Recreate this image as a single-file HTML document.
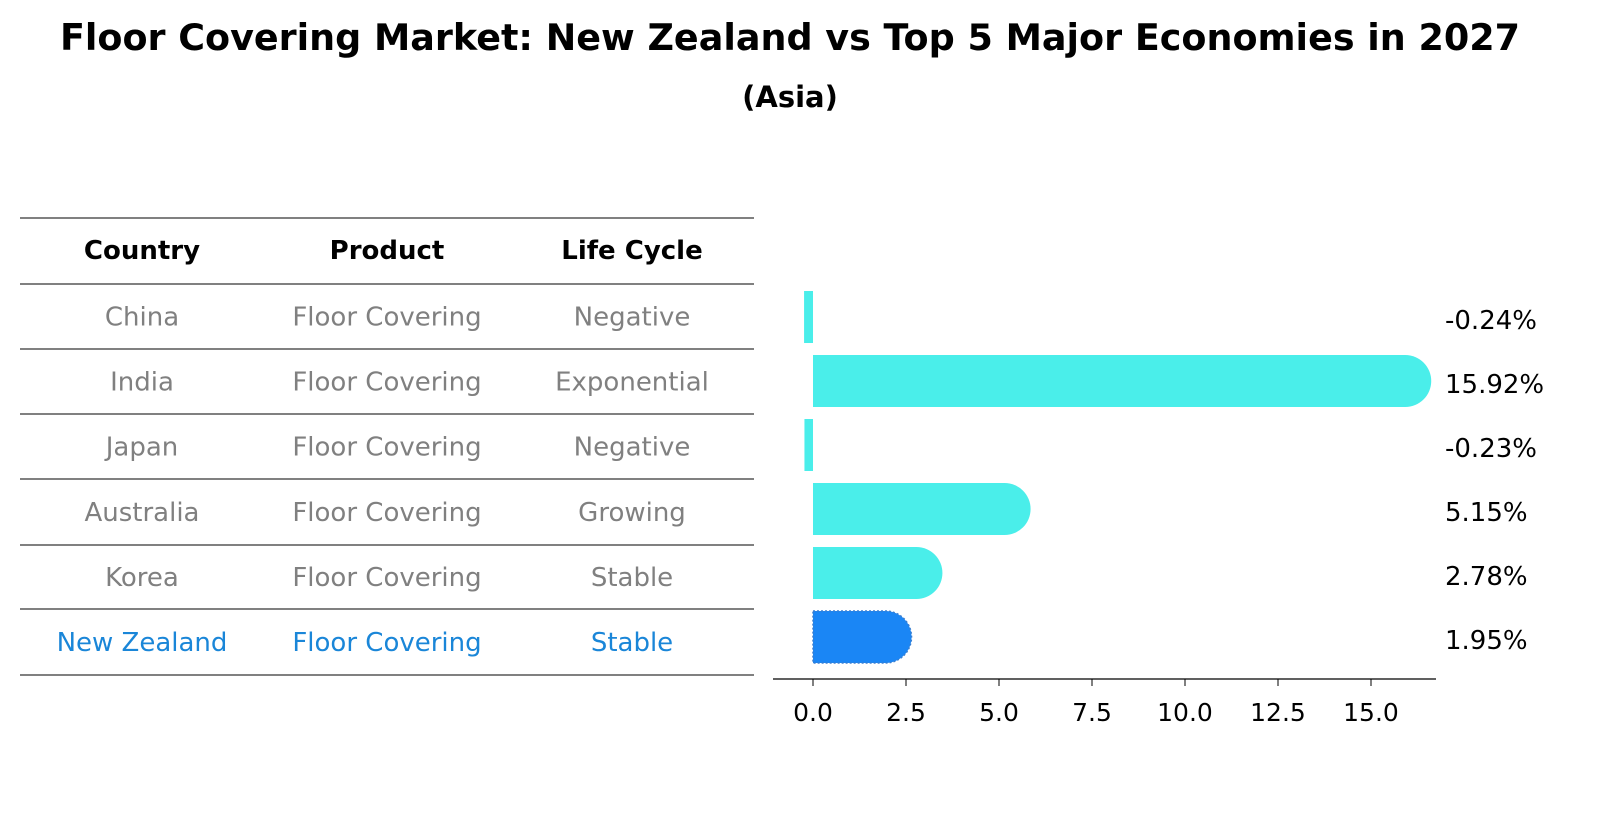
<!DOCTYPE html>
<html><head><meta charset="utf-8"><style>
html,body{margin:0;padding:0;background:#fff;overflow:hidden;width:1604px;height:823px;}
svg{display:block;}
</style></head><body>
<svg width="1604" height="823" viewBox="0 0 1604 823" xmlns="http://www.w3.org/2000/svg" font-family="DejaVu Sans, Liberation Sans, sans-serif">
<text x="790" y="50" text-anchor="middle" font-size="36.5" font-weight="bold">Floor Covering Market: New Zealand vs Top 5 Major Economies in 2027</text>
<text x="790" y="107" text-anchor="middle" font-size="29" font-weight="bold">(Asia)</text>
<g id="table"></g>
<g id="bars"></g>
</svg>
<script>
const countries=["China","India","Japan","Australia","Korea","New Zealand"];
const products=["Floor Covering","Floor Covering","Floor Covering","Floor Covering","Floor Covering","Floor Covering"];
const cycles=["Negative","Exponential","Negative","Growing","Stable","Stable"];
const values=[-0.24,15.92,-0.23,5.15,2.78,1.95];
const ticks=[0,2.5,5,7.5,10,12.5,15];
const NS="http://www.w3.org/2000/svg";
function mk(t,a,p){const e=document.createElementNS(NS,t);for(const k in a)e.setAttribute(k,a[k]);p.appendChild(e);return e;}
const tb=document.getElementById('table');
const lineYs=[218,284,349,414,479,545,609,675];
lineYs.forEach((y,i)=>{const l=mk('line',{x1:20,x2:754,y1:y,y2:y,stroke:'#000','stroke-width':1},tb);

});
const colX=[142,387,632];
["Country","Product","Life Cycle"].forEach((h,i)=>{const t=mk('text',{x:colX[i],y:259,'text-anchor':'middle','font-size':26,'font-weight':'bold'},tb);t.textContent=h;

});
countries.forEach((c,r)=>{const y=(lineYs[r+1]+lineYs[r+2])/2+9;const col=r===countries.length-1?'#1a86d8':'#808080';
[c,products[r],cycles[r]].forEach((v,i)=>{const t=mk('text',{x:colX[i],y:y,'text-anchor':'middle','font-size':26,fill:col},tb);t.textContent=v;

});});
const bg=document.getElementById('bars');
const x0=813,sc=37.2;const X=v=>x0+v*sc;
const rowY=r=>317+r*64;const bh=52,rad=26;
values.forEach((v,r)=>{const cy=rowY(r);const nz=r===values.length-1;const fill=nz?'#1a86f5':'#4aeeea';let e;
if(v>=0){const xe=X(v);e=mk('path',{d:`M${x0},${cy-bh/2} L${xe},${cy-bh/2} A${rad},${rad} 0 0 1 ${xe},${cy+bh/2} L${x0},${cy+bh/2} Z`,fill:fill,stroke:nz?'#3a7fd0':'none','stroke-dasharray':'2,2','stroke-width':nz?1.5:0},bg);}
else{e=mk('rect',{x:X(v),y:cy-bh/2,width:x0-X(v),height:bh,fill:fill},bg);}


const t=mk('text',{x:1445,y:cy+12,'font-size':26},bg);t.textContent=v.toFixed(2)+'%';

});
const ax=mk('line',{x1:773,x2:1436,y1:679,y2:679,stroke:'#000','stroke-width':1.2},bg);


ticks.forEach(v=>{const tk=mk('line',{x1:X(v),x2:X(v),y1:679,y2:686,stroke:'#000'},bg);


const t=mk('text',{x:X(v),y:721,'text-anchor':'middle','font-size':25},bg);t.textContent=v.toFixed(1);

});
</script>
</body></html>
